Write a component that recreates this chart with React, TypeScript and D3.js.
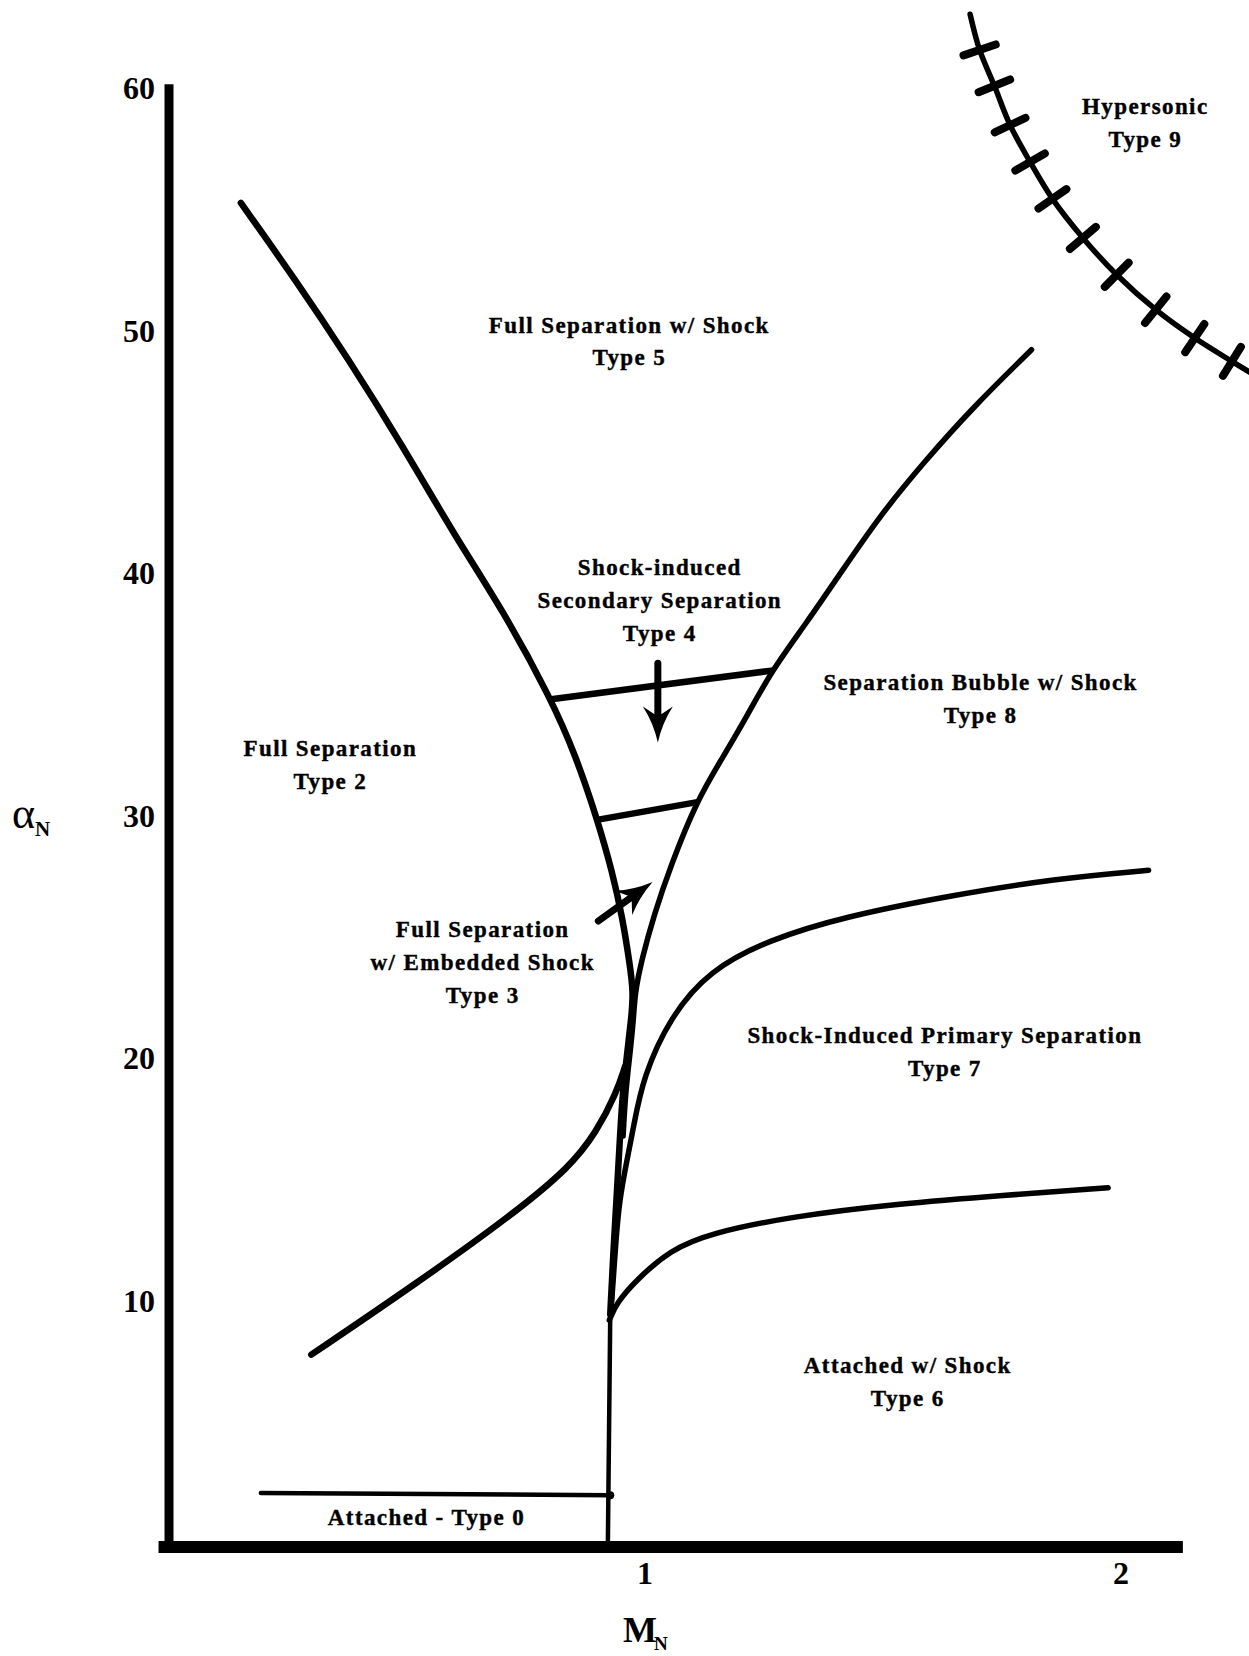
import React from 'react';
import * as d3 from 'd3';

type Pt = [number, number]; // [M_N, alpha_N]

// axis tick labels
const alphaTicks = [10, 20, 30, 40, 50, 60];
const machTicks = [1, 2];

// regime boundaries, [M_N, alpha_N (deg)]
const type2Type5: Pt[] = [
  [0.151, 55.26], [0.266, 52.08], [0.377, 48.82], [0.488, 45.34], [0.603, 41.45],
  [0.701, 38.49], [0.803, 34.8], [0.854, 32.5], [0.9, 29.84], [0.931, 27.71],
  [0.953, 25.75], [0.967, 24.01], [0.976, 22.71], [0.971, 21.62], [0.962, 20.1],
  [0.953, 18.57], [0.947, 16.62], [0.94, 14.13], [0.933, 11.83], [0.927, 9.44],
];

// runs on down the trunk it shares with the Type 2/5 line
const type8Boundary: Pt[] = [
  [1.812, 49.21], [1.69, 46.86], [1.583, 44.51], [1.492, 42.33], [1.41, 39.98],
  [1.339, 37.94], [1.266, 35.98], [1.213, 34.06], [1.162, 32.36], [1.109, 30.63],
  [1.053, 27.89], [1.018, 25.85], [0.993, 24.06], [0.979, 22.71], [0.976, 21.62],
  [0.968, 20.1], [0.959, 18.57], [0.954, 16.8],
];

const type7Upper: Pt[] = [
  [2.058, 27.75], [1.863, 27.41], [1.641, 26.71], [1.419, 25.84], [1.259, 24.88],
  [1.135, 23.62], [1.053, 21.71], [0.996, 19.23], [0.976, 17.18], [0.962, 15.79],
  [0.946, 14.13], [0.939, 12.5], [0.933, 10.8], [0.928, 9.44],
];

const type2Lower: Pt[] = [
  [0.299, 7.78], [0.512, 10.61], [0.723, 13.57], [0.843, 15.53], [0.898, 16.96],
  [0.94, 18.57], [0.958, 19.66],
];

const type6Type7: Pt[] = [
  [1.973, 14.66], [1.752, 14.35], [1.53, 14.0], [1.308, 13.48], [1.135, 12.78],
  [1.053, 12.09], [0.982, 10.87], [0.94, 9.91], [0.925, 9.2],
];

const sonicLine: Pt[] = [[0.927, 9.44], [0.922, 0]];
const type0Line: Pt[] = [[0.193, 2.08], [0.927, 1.99]];

const type4Upper: Pt[] = [[0.803, 34.8], [1.266, 35.98]];
const type4Lower: Pt[] = [[0.902, 29.84], [1.107, 30.55]];

// hypersonic boundary, every inner point carries a cross bar
const hypersonic: Pt[] = [
  [1.683, 63.04], [1.703, 61.57], [1.734, 60.09], [1.767, 58.47], [1.809, 56.95],
  [1.856, 55.43], [1.92, 53.82], [1.991, 52.3], [2.073, 50.86], [2.155, 49.69],
  [2.233, 48.73], [2.284, 48.12],
];

const arrows: { from: Pt; to: Pt }[] = [
  { from: [1.027, 36.28], to: [1.027, 33.02] },
  { from: [0.902, 25.66], to: [1.016, 27.27] },
];

const regionLabels: { lines: string[]; at: Pt }[] = [
  { lines: ['Hypersonic', 'Type 9'], at: [2.051, 59.26] },
  { lines: ['Full Separation w/ Shock', 'Type 5'], at: [0.967, 50.25] },
  { lines: ['Shock-induced', 'Secondary Separation', 'Type 4'], at: [1.031, 40.24] },
  { lines: ['Separation Bubble w/ Shock', 'Type 8'], at: [1.705, 35.5] },
  { lines: ['Full Separation', 'Type 2'], at: [0.339, 32.8] },
  { lines: ['Full Separation', 'w/ Embedded Shock', 'Type 3'], at: [0.659, 25.32] },
  { lines: ['Shock-Induced Primary Separation', 'Type 7'], at: [1.63, 20.96] },
  { lines: ['Attached w/ Shock', 'Type 6'], at: [1.552, 7.34] },
  { lines: ['Attached - Type 0'], at: [0.541, 1.08] },
];

const W = 1249;
const H = 1656;
const FONT = '"Liberation Serif", "Times New Roman", serif';

const x = d3.scaleLinear().domain([0, 2]).range([169, 1121]);
const y = d3.scaleLinear().domain([0, 60]).range([1543.4, 88]);

// hand-drawn boundaries: a B-spline evens out the reading noise
const smooth = d3
  .line<Pt>()
  .x((d) => x(d[0]))
  .y((d) => y(d[1]))
  .curve(d3.curveBasis);

const through = d3
  .line<Pt>()
  .x((d) => x(d[0]))
  .y((d) => y(d[1]))
  .curve(d3.curveCatmullRom.alpha(0.5));

const straight = d3
  .line<Pt>()
  .x((d) => x(d[0]))
  .y((d) => y(d[1]));

function arrowPaths(from: Pt, to: Pt) {
  const x0 = x(from[0]);
  const y0 = y(from[1]);
  const x1 = x(to[0]);
  const y1 = y(to[1]);
  const len = Math.hypot(x1 - x0, y1 - y0);
  const ux = (x1 - x0) / len;
  const uy = (y1 - y0) / len;
  const nx = -uy;
  const ny = ux;
  const L = 36;
  const half = 15;
  const bx = x1 - ux * L;
  const by = y1 - uy * L;
  const notchX = x1 - ux * L * 0.72;
  const notchY = y1 - uy * L * 0.72;
  const head =
    `M${x1},${y1}` +
    `Q${x1 - ux * L * 0.55 + nx * half * 0.3},${y1 - uy * L * 0.55 + ny * half * 0.3} ${bx + nx * half},${by + ny * half}` +
    `L${notchX},${notchY}` +
    `L${bx - nx * half},${by - ny * half}` +
    `Q${x1 - ux * L * 0.55 - nx * half * 0.3},${y1 - uy * L * 0.55 - ny * half * 0.3} ${x1},${y1}Z`;
  const shaft = `M${x0},${y0}L${notchX},${notchY}`;
  return { head, shaft };
}

function crossBars(pts: Pt[], half: number) {
  const bars: string[] = [];
  for (let i = 1; i < pts.length - 1; i++) {
    const px = x(pts[i][0]);
    const py = y(pts[i][1]);
    const tx = x(pts[i + 1][0]) - x(pts[i - 1][0]);
    const ty = y(pts[i + 1][1]) - y(pts[i - 1][1]);
    const l = Math.hypot(tx, ty);
    const nx = -ty / l;
    const ny = tx / l;
    bars.push(`M${px - nx * half},${py - ny * half}L${px + nx * half},${py + ny * half}`);
  }
  return bars;
}

export default function App() {
  const lineGap = 32.7;
  const bars = crossBars(hypersonic, 17);

  return (
    <svg
      width={W}
      height={H}
      viewBox={`0 0 ${W} ${H}`}
      style={{ position: 'absolute', left: 0, top: 0, background: '#fff' }}
      fontFamily={FONT}
    >
      <rect width={W} height={H} fill="#fff" />

      {/* axes */}
      <line x1={x(0)} x2={x(0)} y1={y(-0.15)} y2={y(60.15)} stroke="#000" strokeWidth={9} />
      <line x1={x(-0.022)} x2={x(2.13)} y1={y(-0.15)} y2={y(-0.15)} stroke="#000" strokeWidth={12} />

      {alphaTicks.map((t) => (
        <text
          key={t}
          x={x(0) - 14}
          y={y(t)}
          dy="0.35em"
          textAnchor="end"
          fontSize={32}
          fontWeight="bold"
        >
          {t}
        </text>
      ))}
      {machTicks.map((t) => (
        <text key={t} x={x(t)} y={1573} dy="0.35em" textAnchor="middle" fontSize={32} fontWeight="bold">
          {t}
        </text>
      ))}

      <text x={12} y={828} fontSize={44}>
        α
        <tspan fontSize={21} fontWeight="bold" dy={8}>
          N
        </tspan>
      </text>
      <text x={623} y={1642} fontSize={36} fontWeight="bold">
        M
        <tspan fontSize={19} dx={-3} dy={8}>
          N
        </tspan>
      </text>

      {/* regime boundaries */}
      <g fill="none" stroke="#000" strokeLinecap="round" strokeLinejoin="round">
        <path d={smooth(type2Type5)!} strokeWidth={6.5} />
        <path d={smooth(type8Boundary)!} strokeWidth={5.5} />
        <path d={smooth(type7Upper)!} strokeWidth={5.5} />
        <path d={smooth(type2Lower)!} strokeWidth={6.5} />
        <path d={smooth(type6Type7)!} strokeWidth={5.5} />
        <path d={straight(sonicLine)!} strokeWidth={4.5} />
        <path d={straight(type0Line)!} strokeWidth={4.5} />
        <path d={straight(type4Upper)!} strokeWidth={6.5} />
        <path d={straight(type4Lower)!} strokeWidth={6.5} />
        <path d={through(hypersonic)!} strokeWidth={5.5} />
        {bars.map((b, i) => (
          <path key={i} d={b} strokeWidth={8} />
        ))}
      </g>
      <circle cx={x(type0Line[1][0])} cy={y(type0Line[1][1])} r={4} fill="#000" />

      {arrows.map((a, i) => {
        const p = arrowPaths(a.from, a.to);
        return (
          <g key={i}>
            <path d={p.shaft} stroke="#000" strokeWidth={7} strokeLinecap="round" fill="none" />
            <path d={p.head} fill="#000" />
          </g>
        );
      })}

      {/* region labels */}
      {regionLabels.map((lab, i) => (
        <text
          key={i}
          x={x(lab.at[0])}
          y={y(lab.at[1])}
          textAnchor="middle"
          fontSize={23}
          fontWeight="bold"
          letterSpacing={1.4}
          stroke="#000"
          strokeWidth={0.4}
        >
          {lab.lines.map((ln, j) => (
            <tspan key={j} x={x(lab.at[0])} dy={j === 0 ? '0.35em' : lineGap}>
              {ln}
            </tspan>
          ))}
        </text>
      ))}
    </svg>
  );
}
